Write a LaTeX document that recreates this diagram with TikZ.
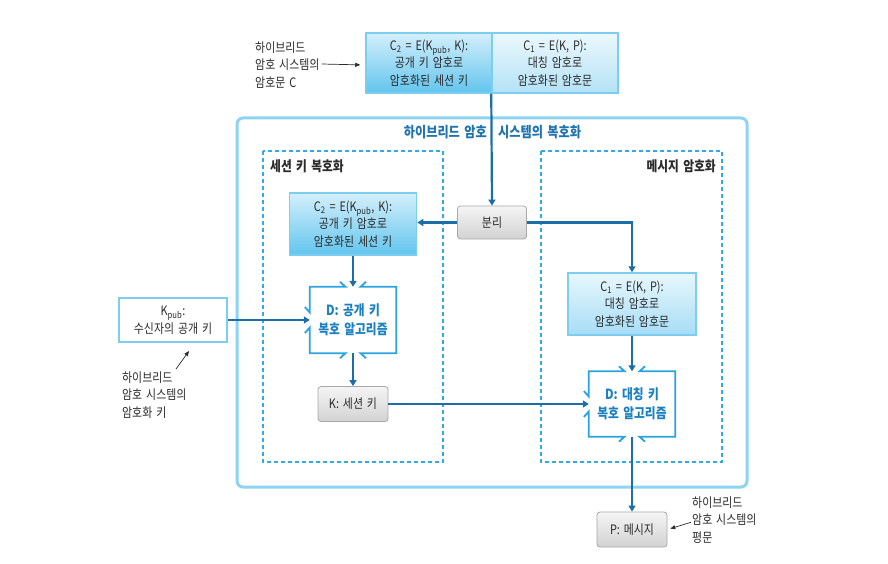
\documentclass[tikz,border=0pt]{standalone}
\usepackage{fontspec}
\setmainfont{Noto Sans CJK KR}[FakeStretch=0.84, WordSpace=1.6]
\usetikzlibrary{arrows.meta,calc}

\definecolor{connblue}{HTML}{1C6FA6}
\definecolor{frameblue}{HTML}{8ED4F2}
\definecolor{boxline}{HTML}{7CCDEF}
\definecolor{dashblue}{HTML}{33AAE6}
\definecolor{algoblue}{HTML}{2AA3E0}
\definecolor{algotext}{HTML}{1A80C2}
\definecolor{titleblue}{HTML}{1E73B0}
\definecolor{ink}{HTML}{2B2B2B}
\definecolor{strongtop}{HTML}{D4EFFB}
\definecolor{strongbot}{HTML}{62C5EE}
\definecolor{softtop}{HTML}{ECF8FD}
\definecolor{softbot}{HTML}{B3E2F6}
\definecolor{midtop}{HTML}{E8F7FD}
\definecolor{midbot}{HTML}{A6DDF5}
\definecolor{grayline}{HTML}{A9A9A9}
\definecolor{graytop}{HTML}{F5F5F5}
\definecolor{graybot}{HTML}{D2D2D2}

\newcommand{\txt}{\fontsize{13}{17.5}\selectfont}
\newcommand{\btxt}{\fontsize{14}{18.5}\selectfont\bfseries}
\newcommand{\ttxt}{\fontsize{14.5}{18.5}\selectfont\bfseries}

\tikzset{
  base/.style={inner sep=0pt, text=ink, font=\txt, align=center},
  cipherA/.style={base, draw=boxline, line width=1.5pt, top color=strongtop, bottom color=strongbot},
  cipherB/.style={base, draw=boxline, line width=1.5pt, top color=softtop, bottom color=softbot},
  cipherC/.style={base, draw=boxline, line width=1.5pt, top color=midtop, bottom color=midbot},
  plainbox/.style={base, draw=boxline, line width=1.5pt, fill=white},
  graybox/.style={base, draw=grayline, line width=0.8pt, rounded corners=3pt,
                  top color=graytop, bottom color=graybot},
  algo/.style={base, text=algotext, font=\btxt},
  algoline/.style={draw=algoblue, line width=1.8pt},
  conn/.style={draw=connblue, line width=2.2pt, -{Triangle[width=7pt,length=6pt]}},
  note/.style={draw=ink, line width=0.7pt, -{Triangle[width=4pt,length=5pt]}},
  notetext/.style={inner sep=0pt, text=ink, font=\txt, align=left},
  region/.style={draw=dashblue, line width=1.2pt, dash pattern=on 4pt off 3pt},
}

% outline of a decryption algorithm box: open on top, left and bottom,
% with short barbs flaring out at each opening
\newcommand{\algoframe}[1]{%
  \draw[algoline, line join=miter]
    ($(#1.north)+(-13,-5)$) -- ($(#1.north)+(-7.5,0)$) -- (#1.north west)
    -- ($(#1.west)+(0,-7.5)$) -- ($(#1.west)+(-5,-13)$);
  \draw[algoline, line join=miter]
    ($(#1.west)+(-5,13)$) -- ($(#1.west)+(0,7.5)$) -- (#1.south west)
    -- ($(#1.south)+(-7.5,0)$) -- ($(#1.south)+(-13,5)$);
  \draw[algoline, line join=miter]
    ($(#1.south)+(13,5)$) -- ($(#1.south)+(7.5,0)$) -- (#1.south east)
    -- (#1.north east) -- ($(#1.north)+(7.5,0)$) -- ($(#1.north)+(13,-5)$);
}

\begin{document}
\begin{tikzpicture}[x=1pt, y=-1pt]
\useasboundingbox[fill=white] (0,0) rectangle (888,564);

% enclosing frame and the two stages
\draw[frameblue, line width=3pt, rounded corners=6pt] (237,118) rectangle (747,487);
\draw[region] (263,151) rectangle (443,462);
\draw[region] (541,151) rectangle (722,462);

\node[anchor=east, inner sep=0pt, text=titleblue, font=\ttxt] (title1) at (487,132) {하이브리드 암호};
\node[anchor=west, inner sep=0pt, text=titleblue, font=\ttxt] (title2) at (498,132) {시스템의 복호화};
\node[anchor=west, inner sep=0pt, text=ink, font=\btxt] (stageL) at (270,166) {세션 키 복호화};
\node[anchor=east, inner sep=0pt, text=ink, font=\btxt] (stageR) at (716,166) {메시지 암호화};

% received ciphertext
\node[cipherA, minimum width=126pt, minimum height=60pt] (C2top) at (429,63)
  {C\textsubscript{2} = E(K\textsubscript{pub}, K):\\공개 키 암호로\\암호화된 세션 키};
\node[cipherB, minimum width=126pt, minimum height=60pt] (C1top) at (555,63)
  {C\textsubscript{1} = E(K, P):\\대칭 암호로\\암호화된 암호문};

\node[notetext, anchor=west] (annC) at (255,65) {하이브리드\\암호 시스템의\\암호문 C};

% splitting step
\node[graybox, minimum width=69pt, minimum height=33pt] (bunri) at (492,222.5) {분리};

% session key decryption
\node[cipherA, minimum width=127pt, minimum height=62pt] (C2in) at (353,224)
  {C\textsubscript{2} = E(K\textsubscript{pub}, K):\\공개 키 암호로\\암호화된 세션 키};
\node[algo, minimum width=86pt, minimum height=66pt] (DL) at (353,320) {D: 공개 키\\복호 알고리즘};
\node[graybox, minimum width=70pt, minimum height=35pt] (K) at (353,404) {K: 세션 키};

\node[plainbox, minimum width=108pt, minimum height=44pt] (Kpub) at (173,320)
  {K\textsubscript{pub}:\\수신자의 공개 키};
\node[notetext, anchor=west] (annK) at (122,395) {하이브리드\\암호 시스템의\\암호화 키};
\coordinate (keyfrom) at (176,369);
\coordinate (keyto) at (189,351);

% message decryption
\node[cipherC, minimum width=128pt, minimum height=62pt] (C1in) at (632,304)
  {C\textsubscript{1} = E(K, P):\\대칭 암호로\\암호화된 암호문};
\node[algo, minimum width=86pt, minimum height=65pt] (DR) at (632,404) {D: 대칭 키\\복호 알고리즘};
\node[graybox, minimum width=70pt, minimum height=35pt] (P) at (632,529.5) {P: 메시지};
\node[notetext, anchor=west] (annP) at (692,520) {하이브리드\\암호 시스템의\\평문};

\algoframe{DL}
\algoframe{DR}

% flow
\draw[conn] (C1top.south west) -- (bunri.north);
\draw[conn] (bunri.west) -- (bunri.west -| C2in.east);
\draw[conn] (bunri.east) -| (C1in.north);
\draw[conn] (C2in.south) -- (DL.north);
\draw[conn] (DL.south) -- (K.north);
\draw[conn] (Kpub.east) -- (DL.west);
\draw[conn] (C1in.south) -- (DR.north);
\draw[conn] (K.east) -- (DR.west);
\draw[conn] (DR.south) -- (P.north);

% annotations
\draw[note, shorten >=5pt] ($(annC.east)+(2,-1)$) -- (annC.east -| C2top.west);
\draw[note] (keyfrom) -- (keyto);
\draw[note, shorten <=1pt, shorten >=3pt] ($(annP.west)+(0,2)$) -- (P.east);
\end{tikzpicture}
\end{document}
